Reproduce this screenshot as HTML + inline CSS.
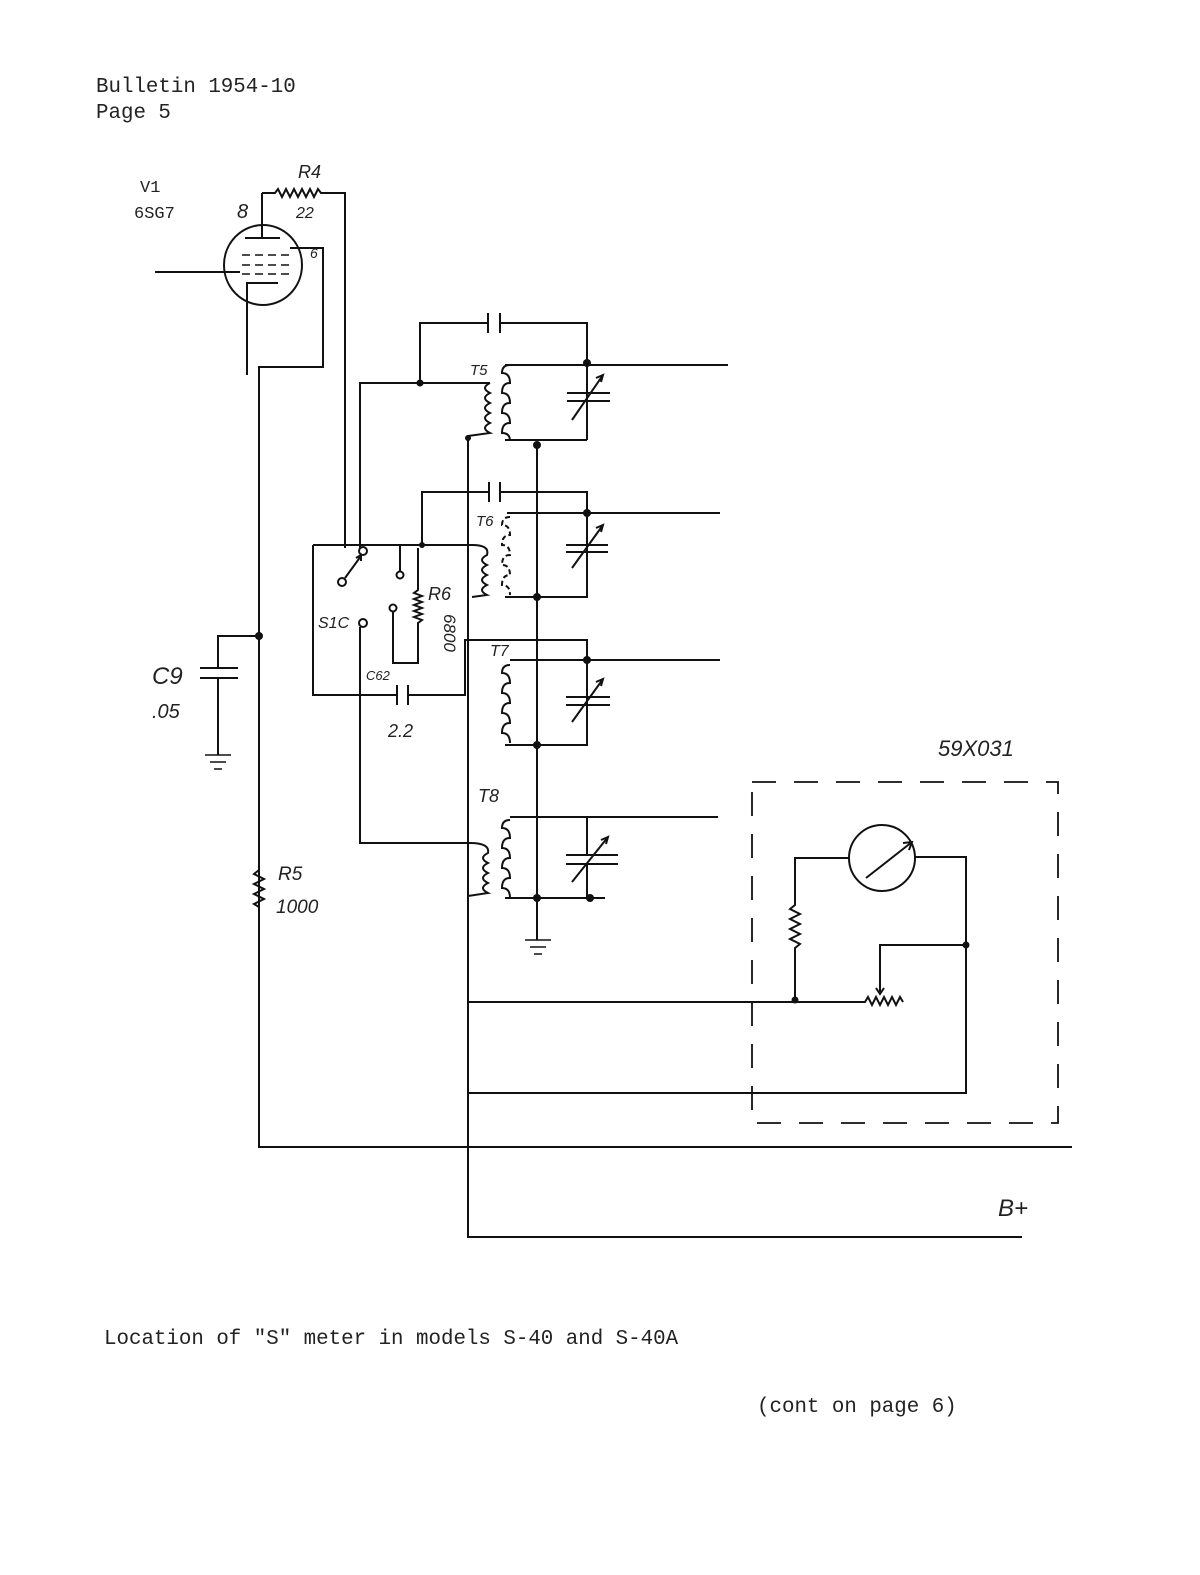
<!DOCTYPE html>
<html><head><meta charset="utf-8"><style>
html,body{margin:0;padding:0;background:#fff;}
svg{display:block}
text{font-family:"Liberation Mono",monospace;fill:#222}
.h{font-family:"Liberation Sans",sans-serif;font-style:italic}
</style></head><body>
<svg width="1200" height="1575" viewBox="0 0 1200 1575" xmlns="http://www.w3.org/2000/svg">
<g fill="none" stroke="#111" stroke-width="2">
<!-- tube -->
<ellipse cx="263" cy="265" rx="39" ry="40"/>
<line x1="262" y1="238" x2="262" y2="193"/>
<line x1="245" y1="238" x2="280" y2="238"/>
<path d="M242 255h8M255 255h8M268 255h8M281 255h8M242 265h8M255 265h8M268 265h8M281 265h8M242 274h8M255 274h8M268 274h8M281 274h8" stroke-width="1.5"/>
<line x1="155" y1="272" x2="240" y2="272"/>
<path d="M247 375V283H278"/>
<path d="M290 248H323V367H259V1147H1072"/>
<!-- R4 -->
<path d="M262 193H275l3-4 4 8 4-8 4 8 4-8 4 8 4-8 4 8 4-8 4 8 4-8 3 4H345V548"/>
<!-- C9 -->
<path d="M259 636H218V668M218 678V755"/>
<line x1="200" y1="668" x2="238" y2="668"/><line x1="200" y1="678" x2="238" y2="678"/>
<path d="M205 755h26M210 762h16M214 769h8" stroke-width="1.5"/>
<!-- R5 -->
<path d="M259 870l-5 4 10 5-10 5 10 5-10 5 10 5-10 5 5 3"/>
<!-- T5 -->
<path d="M420 383V323H488M500 323H587V440M587 440H505M360 548V383H490"/>
<line x1="488" y1="313" x2="488" y2="333"/><line x1="500" y1="313" x2="500" y2="333"/>
<path d="M505 365H728"/>
<path d="M490 383q-10 5 0 10q-10 5 0 10q-10 5 0 10q-10 5 0 10q-10 5 0 10l-22 3V1237H1022"/>
<path d="M510 365q-8 0-8 8q8 0 8 10q-8 0-8 10q8 0 8 10q-8 0-8 10q8 0 8 10q-8 0-8 10q8 0 8 8"/>
<line x1="567" y1="393" x2="610" y2="393"/><line x1="567" y1="401" x2="610" y2="401"/>
<path d="M572 420L603 375M596 378l7-3-2 7"/>
<line x1="537" y1="445" x2="537" y2="940"/>
<!-- T6 -->
<path d="M422 545V492H489M500 492H587V597H505"/>
<line x1="489" y1="482" x2="489" y2="502"/><line x1="500" y1="482" x2="500" y2="502"/>
<path d="M507 513H720"/>
<path d="M510 517q-8 0-8 8q8 0 8 10q-8 0-8 10q8 0 8 10q-8 0-8 10q8 0 8 10q-8 0-8 10q8 0 8 10" stroke-dasharray="5 3"/>
<line x1="566" y1="545" x2="608" y2="545"/><line x1="566" y1="552" x2="608" y2="552"/>
<path d="M572 568L603 525M596 528l7-3-2 7"/>
<path d="M472 545q18 0 15 10q-10 5 0 10q-10 5 0 10q-10 5 0 10q-10 5 0 10l-15 2"/>
<!-- switch box -->
<path d="M313 545H472M313 545V695H397M408 695H465V640H587V745H505"/>
<line x1="397" y1="685" x2="397" y2="705"/><line x1="408" y1="685" x2="408" y2="705"/>
<circle cx="363" cy="551" r="4"/><circle cx="400" cy="575" r="3.5"/><path d="M400 571V545"/>
<circle cx="342" cy="582" r="4"/><path d="M345 578l16-22M356 558l5-3 0 6"/>
<circle cx="393" cy="608" r="3.5"/><path d="M393 612V663H418V658"/>
<path d="M418 548V590l-4 3 8 3-8 3 8 3-8 3 8 3-8 3 8 3-8 3 8 3-4 3V663"/>
<circle cx="363" cy="623" r="4"/><path d="M360 627V843H470"/>
<!-- T7 -->
<path d="M510 660H720"/>
<path d="M510 665q-8 0-8 8q8 0 8 10q-8 0-8 10q8 0 8 10q-8 0-8 10q8 0 8 10q-8 0-8 10q8 0 8 10"/>
<line x1="566" y1="697" x2="610" y2="697"/><line x1="566" y1="705" x2="610" y2="705"/>
<path d="M572 722L603 679M596 682l7-3-2 7"/>
<!-- T8 -->
<path d="M510 817H718M587 817V855M587 865V898M505 898H605"/>
<path d="M510 820q-8 0-8 8q8 0 8 10q-8 0-8 10q8 0 8 10q-8 0-8 10q8 0 8 10q-8 0-8 10q8 0 8 10"/>
<path d="M470 843q20 0 18 10q-10 5 0 10q-10 5 0 10q-10 5 0 10q-10 5 0 10l-20 3"/>
<line x1="566" y1="855" x2="618" y2="855"/><line x1="566" y1="864" x2="618" y2="864"/>
<path d="M572 882L608 837M601 840l7-3-2 7"/>
<path d="M525 940h26M530 947h16M534 954h8" stroke-width="1.5"/>
<!-- meter box -->
<rect x="752" y="782" width="306" height="341" stroke-dasharray="24 18" stroke-width="1.8"/>
<circle cx="882" cy="858" r="33"/>
<path d="M866 878L912 842M903 843l9-1-3 8"/>
<path d="M849 858H795V905l-5 4 10 5-10 5 10 5-10 5 10 5-10 5 10 5-5 4V1000M915 857H966V1093H468"/>
<path d="M468 1002H865l3-5 4 8 4-8 4 8 4-8 4 8 4-8 4 8 4-8 3 5"/>
<path d="M966 945H880V993M876 988l4 6 4-6"/>
</g>
<g fill="#111">
<circle cx="420" cy="383" r="3.5"/><circle cx="587" cy="363" r="4"/><circle cx="537" cy="445" r="4"/>
<circle cx="587" cy="513" r="4"/><circle cx="537" cy="597" r="4"/><circle cx="422" cy="545" r="3"/>
<circle cx="587" cy="660" r="4"/><circle cx="537" cy="745" r="4"/><circle cx="537" cy="898" r="4"/>
<circle cx="590" cy="898" r="4"/><circle cx="259" cy="636" r="4"/><circle cx="795" cy="1000" r="3.5"/>
<circle cx="966" cy="945" r="3.5"/><circle cx="468" cy="438" r="3"/>
</g>
<text x="96" y="92" font-size="20.8">Bulletin 1954-10</text>
<text x="96" y="118" font-size="20.8">Page 5</text>
<text x="140" y="192" font-size="17">V1</text>
<text x="134" y="218" font-size="17">6SG7</text>
<text class="h" x="237" y="218" font-size="20">8</text>
<text class="h" x="310" y="258" font-size="14">6</text>
<text class="h" x="298" y="178" font-size="18">R4</text>
<text class="h" x="296" y="218" font-size="16">22</text>
<text class="h" x="470" y="375" font-size="15">T5</text>
<text class="h" x="476" y="526" font-size="15">T6</text>
<text class="h" x="490" y="656" font-size="16">T7</text>
<text class="h" x="478" y="802" font-size="18">T8</text>
<text class="h" x="428" y="600" font-size="18">R6</text>
<text class="h" x="444" y="614" font-size="17" transform="rotate(90 444 614)">6800</text>
<text class="h" x="318" y="628" font-size="16">S1C</text>
<text class="h" x="366" y="680" font-size="13">C62</text>
<text class="h" x="388" y="737" font-size="18">2.2</text>
<text class="h" x="152" y="684" font-size="24">C9</text>
<text class="h" x="152" y="718" font-size="20">.05</text>
<text class="h" x="278" y="880" font-size="19">R5</text>
<text class="h" x="276" y="913" font-size="19">1000</text>
<text class="h" x="938" y="756" font-size="22">59X031</text>
<text class="h" x="998" y="1216" font-size="24">B+</text>
<text x="104" y="1344" font-size="20.8">Location of "S" meter in models S-40 and S-40A</text>
<text x="757" y="1412" font-size="20.8">(cont on page 6)</text>
</svg>
</body></html>
